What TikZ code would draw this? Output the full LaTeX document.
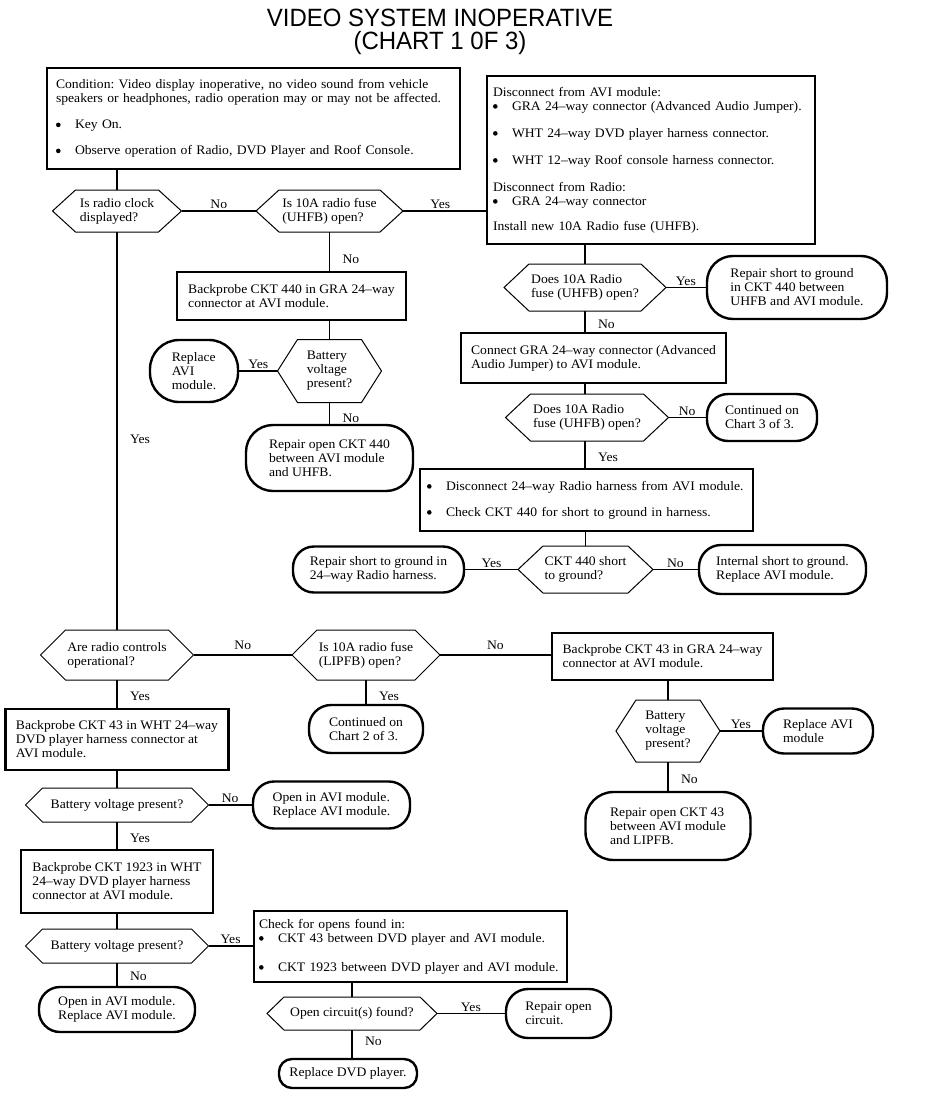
\documentclass[tikz,border=0pt]{standalone}
\usepackage{fontspec}
\setmainfont{Liberation Serif}[FakeStretch=1.05]
\newfontfamily\titlefont{Liberation Sans}[FakeStretch=0.96]
\newcommand\bul{\makebox[19pt][l]{\raisebox{0.25ex}{\tikz\fill (0,0) circle (2.3pt);}}}
\newcommand\hexo[2]{\draw[hexline] (#1.west) -- ([xshift=#2]#1.north west) -- ([xshift=-#2]#1.north east) -- (#1.east) -- ([xshift=-#2]#1.south east) -- ([xshift=#2]#1.south west) -- cycle;}
\tikzset{
  every node/.style={font=\fontsize{13}{14}\selectfont\frenchspacing},
  box/.style={draw, line width=2.4pt, inner xsep=9pt, inner ysep=0pt, align=left},
  term/.style={draw, line width=2.4pt, rounded corners=#1, inner sep=0pt, align=left},
  term/.default=20pt,
  hexn/.style={inner sep=0pt, outer sep=0pt, align=left},
  hexline/.style={line width=1pt},
  conn/.style={line width=1.2pt},
  lbl/.style={inner sep=1.5pt},
  vl/.style={lbl, right=11pt},
  ttl/.style={inner sep=0pt, font=\titlefont\fontsize{25}{26}\selectfont}
}
\begin{document}
\begin{tikzpicture}[x=1pt,y=-1pt]
\useasboundingbox (0,0) rectangle (928,1098);
% title
\node[ttl] (title1) at (440,18) {VIDEO SYSTEM INOPERATIVE};
\node[ttl] (title2) at (440,43.5) {(CHART 1 0F 3)};
% top
\node[box, text width=395pt, minimum height=101pt] (cond) at (253.5,118.5) {Condition: Video display inoperative, no video sound from vehicle\\speakers or headphones, radio operation may or may not be affected.\\[12pt]\bul Key On.\\[12pt]\bul Observe operation of Radio, DVD Player and Roof Console.};
\node[box, inner xsep=6pt, text width=316pt, minimum height=168pt] (dis) at (651,160) {Disconnect from AVI module:\\\bul GRA 24–way connector (Advanced Audio Jumper).\\[13pt]\bul WHT 24–way DVD player harness connector.\\[13pt]\bul WHT 12–way Roof console harness connector.\\[13pt]Disconnect from Radio:\\\bul GRA 24–way connector\\[11pt]Install new 10A Radio fuse (UHFB).};
\node[hexn, minimum width=129pt, minimum height=42pt] (hexA) at (117,211) {Is radio clock\\displayed?};
\node[hexn, minimum width=147pt, minimum height=42pt] (hexB) at (329.5,211) {Is 10A radio fuse\\(UHFB) open?};
\hexo{hexA}{23}\hexo{hexB}{23}
% left-middle
\node[box, minimum width=229pt, minimum height=48pt] (box5) at (291.5,296) {Backprobe CKT 440 in GRA 24–way\\connector at AVI module.};
\node[hexn, minimum width=104pt, minimum height=63pt] (hex6) at (329.5,371) {Battery\\voltage\\present?};
\hexo{hex6}{20}
\node[term=29pt, minimum width=88pt, minimum height=62pt] (term7) at (194,371) {Replace\\AVI\\module.};
\node[term=27pt, minimum width=167pt, minimum height=66pt] (term8) at (329.5,458) {Repair open CKT 440\\between AVI module\\and UHFB.};
% right-middle
\node[hexn, minimum width=162pt, minimum height=47pt] (hex9) at (585,287.5) {Does 10A Radio\\fuse (UHFB) open?};
\hexo{hex9}{25}
\node[term=26pt, minimum width=180pt, minimum height=63pt] (term10) at (797,287.5) {Repair short to ground\\in CKT 440 between\\UHFB and AVI module.};
\node[box, minimum width=265pt, minimum height=50pt] (box11) at (593.5,358) {Connect GRA 24–way connector (Advanced\\Audio Jumper) to AVI module.};
\node[hexn, minimum width=163pt, minimum height=47pt] (hex12) at (587,417.5) {Does 10A Radio\\fuse (UHFB) open?};
\hexo{hex12}{25}
\node[term=21pt, minimum width=110pt, minimum height=47pt] (term13) at (762,417.5) {Continued on\\Chart 3 of 3.};
\node[box, inner xsep=7pt, text width=319pt, minimum height=62pt] (box14) at (586.5,500) {\bul Disconnect 24–way Radio harness from AVI module.\\[12pt]\bul Check CKT 440 for short to ground in harness.};
\node[hexn, minimum width=135pt, minimum height=47pt] (hex15) at (585.5,569.5) {CKT 440 short\\to ground?};
\hexo{hex15}{25}
\node[term=21pt, minimum width=171pt, minimum height=46pt] (term16) at (378.5,569.5) {Repair short to ground in\\24–way Radio harness.};
\node[term=22pt, minimum width=167pt, minimum height=49pt] (term17) at (782.5,569.5) {Internal short to ground.\\Replace AVI module.};
% lower
\node[hexn, minimum width=153pt, minimum height=50pt] (hex18) at (117,655) {Are radio controls\\operational?};
\node[hexn, minimum width=148pt, minimum height=50pt] (hex19) at (366,655) {Is 10A radio fuse\\(LIPFB) open?};
\hexo{hex18}{25}\hexo{hex19}{25}
\node[box, minimum width=221pt, minimum height=47pt] (box20) at (662.5,656.5) {Backprobe CKT 43 in GRA 24–way\\connector at AVI module.};
\node[hexn, minimum width=104pt, minimum height=62pt] (hex21) at (668,731) {Battery\\voltage\\present?};
\hexo{hex21}{20}
\node[term=21pt, minimum width=110pt, minimum height=45pt] (term22) at (818,731) {Replace AVI\\module};
\node[term=28pt, minimum width=165pt, minimum height=68pt] (term23) at (668,826) {Repair open CKT 43\\between AVI module\\and LIPFB.};
\node[term=22pt, minimum width=114pt, minimum height=48pt] (term24) at (366,729) {Continued on\\Chart 2 of 3.};
\node[box, minimum width=223pt, minimum height=61pt] (box25) at (117,739.5) {Backprobe CKT 43 in WHT 24–way\\DVD player harness connector at\\AVI module.};
\node[hexn, minimum width=183pt, minimum height=34pt] (hex26) at (117,805) {Battery voltage present?};
\hexo{hex26}{17}
\node[term=21pt, minimum width=157pt, minimum height=47pt] (term27) at (331.5,805) {Open in AVI module.\\Replace AVI module.};
\node[box, minimum width=192pt, minimum height=63pt] (box28) at (117,881.5) {Backprobe CKT 1923 in WHT\\24–way DVD player harness\\connector at AVI module.};
\node[hexn, minimum width=183pt, minimum height=34pt] (hex29) at (117,946) {Battery voltage present?};
\hexo{hex29}{17}
\node[term=21pt, minimum width=156pt, minimum height=45pt] (term30) at (117,1009.5) {Open in AVI module.\\Replace AVI module.};
\node[box, inner xsep=5pt, text width=303pt, minimum height=71pt] (box31) at (410.5,946.5) {Check for opens found in:\\\bul CKT 43 between DVD player and AVI module.\\[15pt]\bul CKT 1923 between DVD player and AVI module.};
\node[hexn, minimum width=170pt, minimum height=33pt] (hex32) at (352,1013.5) {Open circuit(s) found?};
\hexo{hex32}{17}
\node[term=22pt, minimum width=105pt, minimum height=49pt] (term33) at (558.5,1013.5) {Repair open\\circuit.};
\node[term=13pt, minimum width=138pt, minimum height=29pt] (term34) at (348,1073.5) {Replace DVD player.};
% connectors
\draw[conn] (hexA.north) -- (hexA.north |- cond.south);
\draw[conn] (hexA) -- node[lbl, above]{No} (hexB);
\draw[conn] (hexB.east) -- node[lbl, above, pos=0.45]{Yes} (hexB.east -| dis.west);
\draw[conn] (hexB.south) -- node[vl, pos=0.7]{No} (hexB.south |- box5.north);
\draw[conn] (hex6.north) -- (hex6.north |- box5.south);
\draw[conn] (hex6) -- node[lbl, above]{Yes} (term7);
\draw[conn] (hex6) -- node[vl, pos=0.75]{No} (term8);
\draw[conn] (hexA) -- node[vl, pos=0.52]{Yes} (hex18);
\draw[conn] (hex9.north) -- (hex9.north |- dis.south);
\draw[conn] (hex9) -- node[lbl, above]{Yes} (term10);
\draw[conn] (hex9.south) -- node[vl, pos=0.65]{No} (hex9.south |- box11.north);
\draw[conn] (hex12.north -| hex9.south) -- (hex9.south |- box11.south);
\draw[conn] (hex12) -- node[lbl, above]{No} (term13);
\draw[conn] (hex12.south -| hex9.south) -- node[vl, pos=0.6]{Yes} (hex9.south |- box14.north);
\draw[conn] (hex15.north) -- (hex15.north |- box14.south);
\draw[conn] (hex15) -- node[lbl, above]{Yes} (term16);
\draw[conn] (hex15) -- node[lbl, above]{No} (term17);
\draw[conn] (hex18) -- node[lbl, above=3pt]{No} (hex19);
\draw[conn] (hex19.east) -- node[lbl, above=3pt]{No} (hex19.east -| box20.west);
\draw[conn] (hex19) -- node[vl, pos=0.68]{Yes} (term24);
\draw[conn] (hex21.north) -- (hex21.north |- box20.south);
\draw[conn] (hex21) -- node[lbl, above]{Yes} (term22);
\draw[conn] (hex21) -- node[vl, pos=0.6]{No} (term23);
\draw[conn] (hex18) -- node[vl, pos=0.6]{Yes} (box25);
\draw[conn] (hex26.north) -- (hex26.north |- box25.south);
\draw[conn] (hex26) -- node[lbl, above]{No} (term27);
\draw[conn] (hex26) -- node[vl, pos=0.6]{Yes} (box28);
\draw[conn] (hex29.north) -- (hex29.north |- box28.south);
\draw[conn] (hex29) -- node[vl, pos=0.6]{No} (term30);
\draw[conn] (hex29.east) -- node[lbl, above]{Yes} (hex29.east -| box31.west);
\draw[conn] (hex32.north) -- (hex32.north |- box31.south);
\draw[conn] (hex32) -- node[lbl, above]{Yes} (term33);
\draw[conn] (hex32.south) -- node[vl, pos=0.4]{No} (hex32.south |- term34.north);
\end{tikzpicture}
\end{document}
